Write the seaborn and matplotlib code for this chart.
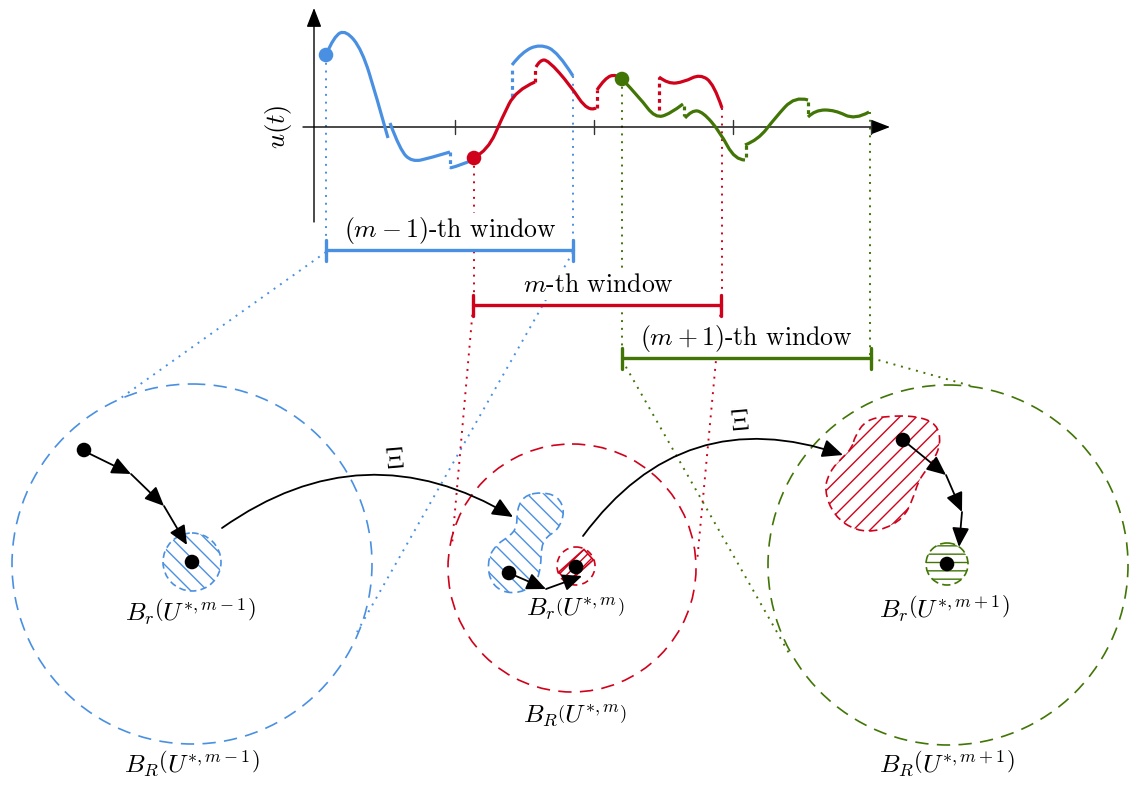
import numpy as np
import pandas as pd
import matplotlib
matplotlib.use("Agg")
import matplotlib.pyplot as plt
import seaborn as sns
from matplotlib.path import Path
from matplotlib.patches import PathPatch, Circle, Rectangle

sns.set_theme(style="white")
plt.rcParams['font.family'] = ['cmr10', 'DejaVu Serif']
plt.rcParams['mathtext.fontset'] = 'cm'
plt.rcParams['hatch.linewidth'] = 1.0
plt.rcParams['axes.unicode_minus'] = False
plt.rcParams['text.color'] = 'black'

BLUE = "#4a90e2"
RED = "#d0021b"
GREEN = "#417505"
AXIS = "#333333"

# ---------------- top plot: u(t) (pixel coordinates) ----------------
x_axis = [303, 890]
y_axis_x = 314
y_axis = [222, 8]
axis_y = 127
tick_x = [455, 594, 733, 871]

blue_segments = [
    [(326, 55), (334, 36), (346, 30), (362, 50), (376, 95), (388, 138)],
    [(390, 123), (400, 150), (412, 162), (430, 158), (450, 152)],
    [(450, 168), (462, 165), (472, 160)],
    [(512, 65), (522, 52), (540, 44), (558, 52), (573, 76)],
]
blue_jumps = [(450, 152, 168), (512, 97, 67)]

red_segments = [
    [(474, 158), (488, 150), (502, 118), (516, 90), (535, 82)],
    [(536, 67), (540, 60), (548, 60), (570, 85), (588, 112), (596, 108)],
    [(597, 90), (605, 78), (616, 74), (622, 79)],
    [(659, 77), (668, 84), (684, 82), (700, 74), (714, 84), (722, 108)],
]
red_jumps = [(535, 82, 67), (597, 108, 90), (659, 110, 77)]

green_segments = [
    [(622, 79), (640, 98), (655, 118), (670, 114), (683, 104)],
    [(685, 118), (692, 110), (703, 112), (720, 132), (735, 160), (745, 160)],
    [(745, 145), (758, 140), (775, 118), (795, 96), (808, 100)],
    [(808, 117), (815, 110), (835, 110), (855, 120), (869, 112)],
]
green_jumps = [(684, 106, 116), (746, 157, 145), (808, 102, 114)]

# windows
win_labels = [r"$(m-1)$-th window", r"$m$-th window", r"$(m+1)$-th window"]
win_start = [326, 473, 622]
win_end = [573, 721, 871]
win_y = [250, 305, 358]
win_label_x = [450, 598, 746]
win_label_y = [231, 285, 338]
win_colors = [BLUE, RED, GREEN]

# vertical dotted drop lines (x, y_top, y_bottom)
drop_lines = [(326, 55, 250, BLUE), (573, 76, 250, BLUE),
              (474, 158, 305, RED), (722, 108, 305, RED),
              (622, 79, 358, GREEN), (870, 112, 358, GREEN)]
# tangent dotted lines to the big balls
tangent_lines = [((326, 252), (118, 400), BLUE), ((573, 252), (357, 632), BLUE),
                 ((473, 307), (452, 545), RED), ((721, 307), (697, 562), RED),
                 ((622, 360), (790, 655), GREEN), ((871, 358), (975, 387), GREEN)]

# ---------------- bottom: balls ----------------
big_centers = [(192, 564), (572, 568), (948, 565)]
big_radii = [180, 124, 180]
big_colors = [BLUE, RED, GREEN]

blue_blob = [(540, 492), (558, 496), (565, 512), (558, 530), (546, 537), (541, 548),
             (541, 566), (536, 584), (520, 593), (501, 592), (489, 579), (488, 558),
             (497, 544), (510, 536), (517, 527), (517, 509), (524, 496)]
red_blob = [(855, 436), (866, 420), (887, 416), (917, 416), (937, 424), (941, 443),
            (933, 462), (919, 479), (913, 499), (903, 519), (880, 531), (856, 531),
            (834, 516), (824, 490), (830, 471), (842, 458), (852, 448)]

black_x = [84, 192, 509, 576, 903, 947]
black_y = [450, 562, 573, 567, 440, 564]
start_x = [326, 474, 622]
start_y = [55, 158, 79]

chains = [[(84, 451), (131, 474), (164, 506), (187, 545)],
          [(509, 573), (546, 589), (582, 576)],
          [(903, 440), (946, 475), (962, 512), (959, 547)]]
xi_arcs = [((222, 528), (513, 517), -0.325), ((583, 536), (843, 455), -0.367)]
xi_labels_pos = [(395, 453), (740, 415)]

small_labels = [r"$B_r\left(U^{*,m-1}\right)$", r"$B_r\left(U^{*,m}\right)$",
                r"$B_r\left(U^{*,m+1}\right)$"]
small_label_pos = [(190, 612), (575, 609), (944, 609)]
big_labels = [r"$B_R\left(U^{*,m-1}\right)$", r"$B_R\left(U^{*,m}\right)$",
              r"$B_R\left(U^{*,m+1}\right)$"]
big_label_pos = [(192, 764), (575, 715), (947, 764)]


def bspline_path(pts, closed=False):
    pts = [np.array(p, float) for p in pts]
    verts, codes = [], []
    n = len(pts)
    if closed:
        start = (pts[-1] + pts[0]) / 2
        verts.append(start); codes.append(Path.MOVETO)
        for i in range(n):
            verts.append(pts[i]); codes.append(Path.CURVE3)
            verts.append((pts[i] + pts[(i + 1) % n]) / 2); codes.append(Path.CURVE3)
        verts.append(start); codes.append(Path.CLOSEPOLY)
    else:
        verts.append(pts[0]); codes.append(Path.MOVETO)
        for i in range(1, n - 2):
            verts.append(pts[i]); codes.append(Path.CURVE3)
            verts.append((pts[i] + pts[i + 1]) / 2); codes.append(Path.CURVE3)
        verts.append(pts[n - 2]); codes.append(Path.CURVE3)
        verts.append(pts[n - 1]); codes.append(Path.CURVE3)
    return Path(verts, codes)


fig = plt.figure(figsize=(11.29, 7.85), dpi=100)
ax = fig.add_axes([0, 0, 1, 1])
ax.set_facecolor("white")

DOT = (0, (1, 3))
for x, y0, y1, c in drop_lines:
    ax.plot([x, x], [y0, y1], color=c, lw=1.4, ls=DOT, zorder=1)
for (x0, y0), (x1, y1), c in tangent_lines:
    ax.plot([x0, x1], [y0, y1], color=c, lw=1.4, ls=DOT, zorder=1)

# axes
AX_HEAD = "-|>,head_length=0.9,head_width=0.35"
ax.annotate("", xy=(x_axis[1], axis_y), xytext=(x_axis[0], axis_y),
            arrowprops=dict(arrowstyle=AX_HEAD, color="black",
                            lw=1.0, shrinkA=0, shrinkB=0, mutation_scale=13), zorder=2)
ax.annotate("", xy=(y_axis_x, y_axis[1]), xytext=(y_axis_x, y_axis[0]),
            arrowprops=dict(arrowstyle=AX_HEAD, color="black",
                            lw=1.0, shrinkA=0, shrinkB=0, mutation_scale=13), zorder=2)
for tx in tick_x:
    ax.plot([tx, tx], [axis_y - 7, axis_y + 7], color=AXIS, lw=1.0, zorder=2)
ax.text(278, axis_y, r"$u(t)$", rotation=90, fontsize=19, ha="center", va="center")

# curves
for segs, jumps, c in [(blue_segments, blue_jumps, BLUE), (red_segments, red_jumps, RED),
                       (green_segments, green_jumps, GREEN)]:
    for s in segs:
        ax.add_patch(PathPatch(bspline_path(s), fill=False, edgecolor=c, lw=2.3,
                               capstyle="butt", zorder=5))
    for x, y0, y1 in jumps:
        ax.plot([x, x], [y0, y1], color=c, lw=2.3, ls=(0, (1.2, 1.2)), zorder=5)

# windows
for lab, x0, x1, y, lx, ly, c in zip(win_labels, win_start, win_end, win_y,
                                     win_label_x, win_label_y, win_colors):
    sns.lineplot(x=[x0, x1], y=[y, y], color=c, lw=2.4, ax=ax, zorder=4)
    for xe in (x0, x1):
        ax.plot([xe, xe], [y - 10, y + 11], color=c, lw=2.4, zorder=4)
    ax.text(lx, ly, lab, fontsize=18.5, ha="center", va="center", zorder=3,
            bbox=dict(facecolor="white", edgecolor="none", pad=2))

# big balls
for (cx, cy), r, c in zip(big_centers, big_radii, big_colors):
    ax.add_patch(Circle((cx, cy), r, fill=False, edgecolor=c, lw=1.2,
                        ls=(0, (8, 5)), zorder=2))

# small sets
ax.add_patch(Circle((192, 562), 29, facecolor="none", edgecolor=BLUE, lw=1.2,
                    ls=(0, (4, 2.5)), hatch="\\\\", zorder=3))
ax.add_patch(PathPatch(bspline_path(blue_blob, closed=True), facecolor="none",
                       edgecolor=BLUE, lw=1.2, ls=(0, (5, 3)), hatch="\\\\", zorder=3))
ax.add_patch(Rectangle((576 - 17, 566 - 7), 34, 14, angle=-42, rotation_point="center",
                       facecolor="none", edgecolor=RED, lw=1.2, hatch="////", zorder=3))
ax.add_patch(Circle((576, 566), 19, fill=False, edgecolor=RED, lw=1.2,
                    ls=(0, (4, 3)), zorder=3))
ax.add_patch(PathPatch(bspline_path(red_blob, closed=True), facecolor="none",
                       edgecolor=RED, lw=1.2, ls=(0, (5, 3)), hatch="//", zorder=3))
ax.add_patch(Circle((947, 564), 21, facecolor="none", edgecolor=GREEN, lw=1.2,
                    ls=(0, (5, 2.5)), hatch="--", zorder=3))

# arrows
HEAD = "-|>,head_length=0.9,head_width=0.4"
for ch in chains:
    for a, b in zip(ch[:-1], ch[1:]):
        ax.annotate("", xy=b, xytext=a,
                    arrowprops=dict(arrowstyle=HEAD, color="black", lw=1.3,
                                    shrinkA=0, shrinkB=0, mutation_scale=13), zorder=6)
for a, b, rad in xi_arcs:
    ax.annotate("", xy=b, xytext=a,
                arrowprops=dict(arrowstyle=HEAD, color="black", lw=1.3,
                                shrinkA=0, shrinkB=0, mutation_scale=14,
                                connectionstyle=f"arc3,rad={rad}"), zorder=6)
for (x, y) in xi_labels_pos:
    ax.text(x, y, r"$\Xi$", fontsize=20, rotation=185, ha="center", va="center")

# dots via seaborn
dots = pd.DataFrame({"x": black_x + start_x, "y": black_y + start_y,
                     "kind": ["k"] * len(black_x) + ["b", "r", "g"]})
sns.scatterplot(data=dots, x="x", y="y", hue="kind",
                palette={"k": "black", "b": BLUE, "r": RED, "g": GREEN},
                s=110, edgecolor="none", legend=False, ax=ax, zorder=7)

for lab, (x, y) in zip(small_labels, small_label_pos):
    ax.text(x, y, lab, fontsize=18.5, ha="center", va="center", zorder=8)
for lab, (x, y) in zip(big_labels, big_label_pos):
    ax.text(x, y, lab, fontsize=18.5, ha="center", va="center", zorder=8)

ax.set_xlim(0, 1129)
ax.set_ylim(785, 0)
ax.set_xlabel("")
ax.set_ylabel("")
ax.axis("off")
fig.savefig("out.png", dpi=100, facecolor="white")
